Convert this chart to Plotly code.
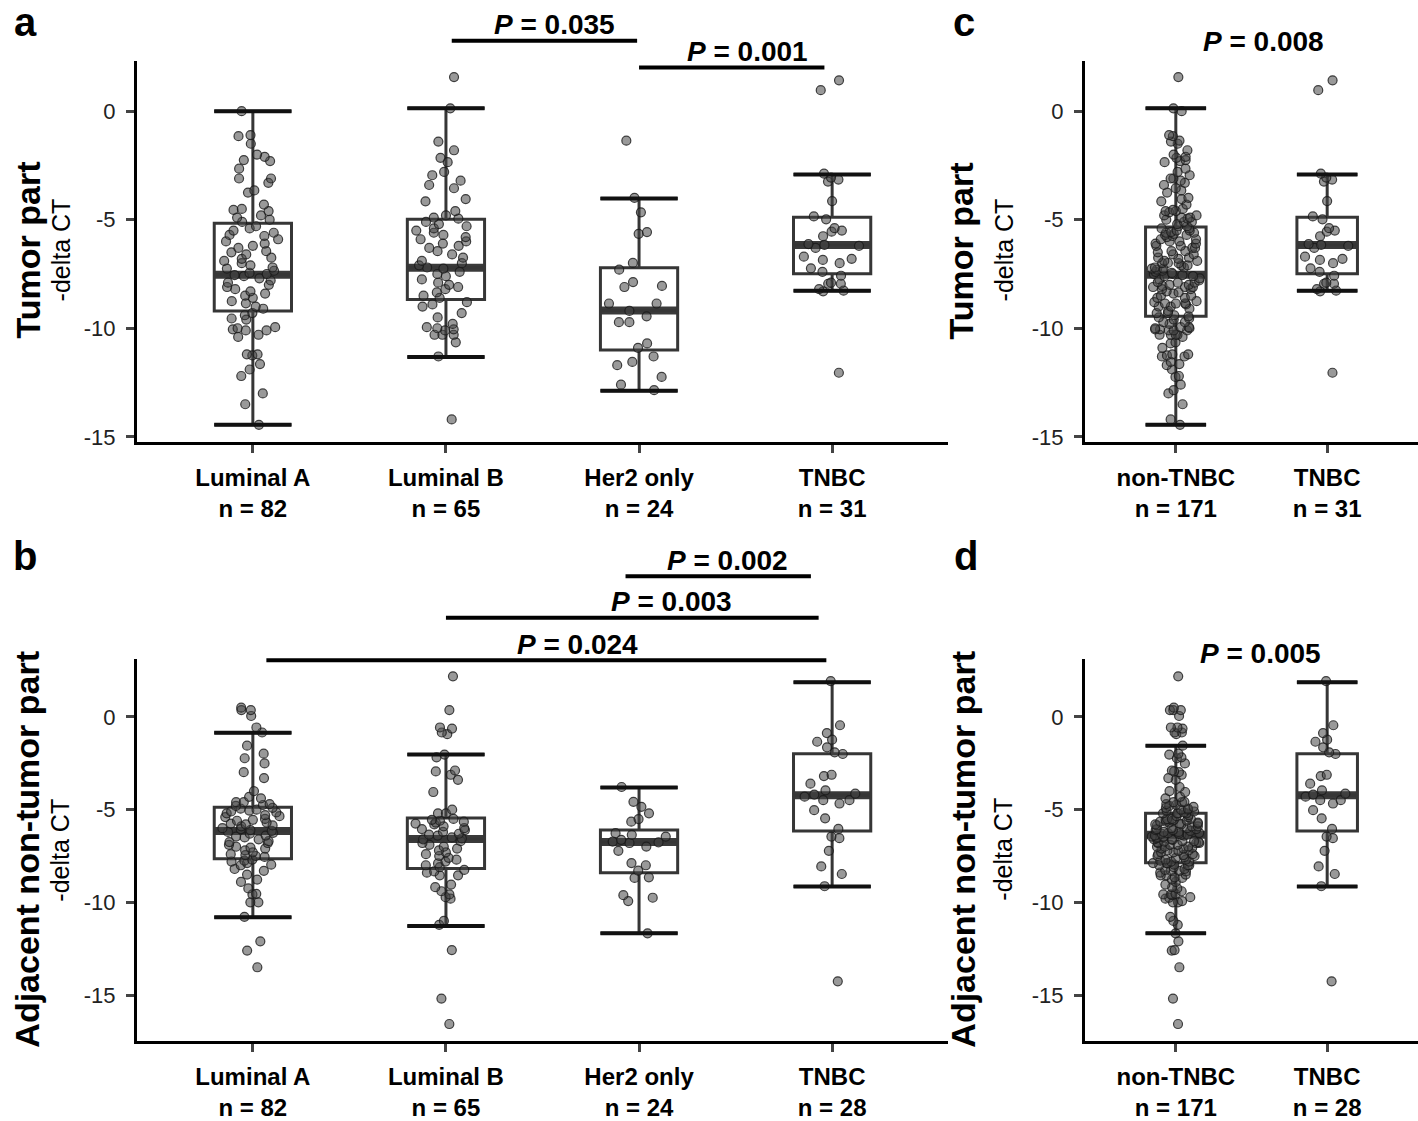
import plotly.graph_objects as go

# ---- data: tumor part (panel a, c) ----
groups_a = ["Luminal A", "Luminal B", "Her2 only", "TNBC"]
n_a = [82, 65, 24, 31]

lumA_t = [0.0, -1.1, -1.15, -1.5, -2.0, -2.1, -2.25, -2.3, -2.65, -3.1, -3.1, -3.3, -3.65, -3.75,
          -4.3, -4.5, -4.55, -4.6, -4.8, -4.9, -5.0, -5.1,
          -5.3, -5.4, -5.5, -5.6, -5.7, -5.75, -5.9, -6.0, -6.1, -6.2, -6.3, -6.45, -6.5, -6.6,
          -6.75, -6.8, -6.9, -7.0, -7.1, -7.2, -7.25, -7.35, -7.45, -7.5, -7.55, -7.6, -7.7, -7.8,
          -7.9, -8.0, -8.1, -8.2, -8.3, -8.4, -8.5, -8.6, -8.75, -8.85, -9.0, -9.1,
          -9.3, -9.4, -9.55, -9.6, -9.95, -10.0, -10.05, -10.1, -10.1, -10.3, -10.4,
          -11.2, -11.2, -11.25, -11.65, -11.9, -12.2, -13.0, -13.5, -14.45]
lumB_t = [1.57, 0.13, -1.4, -1.8, -2.15, -2.35, -2.8, -2.95, -3.2, -3.4, -3.55, -4.05, -4.15,
          -4.6, -4.8, -4.9, -4.95,
          -5.1, -5.2, -5.3, -5.4, -5.5, -5.6, -5.7, -5.8, -5.9, -6.0, -6.1, -6.2, -6.3, -6.45,
          -6.6, -6.75, -6.9, -7.0, -7.1, -7.2, -7.25, -7.4, -7.5, -7.6, -7.75, -7.9, -8.0, -8.1,
          -8.2, -8.35, -8.5, -8.6,
          -8.8, -8.9, -9.0, -9.3, -9.5, -9.8, -9.95, -10.0, -10.05, -10.1, -10.3, -10.3, -10.3,
          -10.65, -11.3, -14.2]
her2_t = [-1.36, -3.99, -4.66, -5.57, -5.65, -6.99, -7.3, -7.87, -8.05, -8.1, -8.86, -8.86,
          -9.2, -9.45, -9.72, -9.72, -10.7, -10.9, -11.3, -11.55, -11.7, -12.24, -12.6, -12.85]
tnbc_t = [1.42, 0.97, -2.88, -3.06, -3.15, -3.24, -4.14, -4.85, -4.98, -5.39, -5.5, -5.55,
          -5.76, -6.12, -6.16, -6.2, -6.3, -6.7, -6.8, -6.85, -7.0, -7.24, -7.4, -7.58, -7.9,
          -7.95, -7.95, -8.2, -8.27, -8.3, -12.05]

# box statistics (lower whisker, q1, median, q3, upper whisker)
a_low = [-14.45, -11.32, -12.88, -8.27]
a_q1 = [-9.2, -8.68, -11.0, -7.49]
a_med = [-7.53, -7.21, -9.18, -6.16]
a_q3 = [-5.16, -4.98, -7.21, -4.89]
a_high = [0.0, 0.14, -4.02, -2.92]

groups_c = ["non-TNBC", "TNBC"]
n_c = [171, 31]
c_low = [-14.45, -8.27]
c_q1 = [-9.45, -7.49]
c_med = [-7.53, -6.16]
c_q3 = [-5.34, -4.89]
c_high = [0.14, -2.92]

# ---- data: adjacent non-tumor part (panel b, d) ----
n_b = [82, 65, 24, 28]
lumA_n = [0.5, 0.37, 0.37, 0.05, -0.57, -0.84, -1.55, -1.98, -2.23, -2.51, -2.98, -3.3, -4.0,
          -4.31, -4.39, -4.6, -4.6, -4.7, -4.75, -4.8,
          -4.9, -4.95, -5.0, -5.05, -5.1, -5.15, -5.2, -5.3, -5.35, -5.4, -5.5, -5.55, -5.6,
          -5.7, -5.75, -5.8, -5.85, -5.9, -6.0, -6.05, -6.1, -6.15, -6.2, -6.25, -6.3, -6.4,
          -6.45, -6.5, -6.6, -6.7, -6.75, -6.8, -6.9, -7.0, -7.05, -7.1, -7.2, -7.3, -7.4,
          -7.45, -7.5, -7.55,
          -7.7, -7.75, -7.8, -7.88, -7.97, -8.0, -8.2, -8.3, -8.5, -8.77, -8.9, -9.25, -9.54,
          -9.57, -10.0, -10.0, -10.78, -12.1, -12.6, -13.5]
lumB_n = [2.19, 0.37, -0.57, -0.63, -0.84, -0.93, -2.03, -2.18, -2.89, -2.94, -3.12, -3.39,
          -4.05, -5.0, -5.2, -5.2,
          -5.5, -5.55, -5.6, -5.65, -5.7, -5.75, -5.8, -5.9, -6.0, -6.05, -6.1, -6.2, -6.3,
          -6.35, -6.4, -6.5, -6.55, -6.6, -6.7, -6.8, -6.9, -7.0, -7.1, -7.2, -7.3, -7.4, -7.5,
          -7.6, -7.7, -7.8, -7.9, -8.0, -8.1,
          -8.25, -8.33, -8.4, -8.54, -8.54, -9.04, -9.18, -9.4, -9.57, -9.72, -9.8, -11.0,
          -11.21, -12.57, -15.19, -16.56]
her2_n = [-3.78, -4.58, -4.85, -5.2, -5.51, -5.65, -6.27, -6.36, -6.45, -6.63, -6.72, -6.76,
          -6.8, -6.99, -7.22, -7.88, -8.0, -8.29, -8.65, -8.68, -9.61, -9.75, -9.93, -11.67]
tnbc_n = [1.93, -0.45, -0.87, -1.23, -1.34, -1.64, -1.91, -2.0, -3.12, -3.19, -3.6, -3.96,
          -4.14, -4.19, -4.3, -4.49, -4.49, -4.67, -5.03, -5.47, -6.04, -6.45, -6.54, -7.22,
          -8.06, -8.47, -9.13, -14.26]

b_low = [-10.8, -11.28, -11.66, -9.14]
b_q1 = [-7.65, -8.18, -8.4, -6.15]
b_med = [-6.15, -6.58, -6.74, -4.22]
b_q3 = [-4.87, -5.45, -6.1, -1.98]
b_high = [-0.86, -2.03, -3.8, 1.87]

n_d = [171, 28]
d_low = [-11.66, -9.14]
d_q1 = [-7.86, -6.15]
d_med = [-6.36, -4.22]
d_q3 = [-5.19, -1.98]
d_high = [-1.55, 1.87]

# p-values: (from, to, bracket level, label position, text)
sig_a = [(1.03, 1.99, 3.24, 1.56, "0.035"), (2.0, 2.96, 2.01, 2.56, "0.001")]
sig_b = [(1.93, 2.89, 7.59, 2.46, "0.002"), (1.0, 2.93, 5.35, 2.17, "0.003"),
         (0.07, 2.97, 3.05, 1.68, "0.024")]
p_c = (0.58, 3.2, "0.008")
p_d = (0.56, 3.42, "0.005")

FONT = "Liberation Sans, Arial, sans-serif"
W, H = 1418, 1121
yr_t = [-15.25, 2.33]
yr_n = [-17.5, 3.13]

panels = {
    "a": dict(ax=("x", "y"), xr=[-0.6, 3.6], yr=yr_t, names=groups_a, n=n_a,
              vals=[lumA_t, lumB_t, her2_t, tnbc_t],
              stats=(a_low, a_q1, a_med, a_q3, a_high),
              dom=((137, 948), (61, 445))),
    "c": dict(ax=("x2", "y2"), xr=[-0.6, 1.6], yr=yr_t, names=groups_c, n=n_c,
              vals=[lumA_t + lumB_t + her2_t, tnbc_t],
              stats=(c_low, c_q1, c_med, c_q3, c_high),
              dom=((1085, 1418), (61, 445))),
    "b": dict(ax=("x3", "y3"), xr=[-0.6, 3.6], yr=yr_n, names=groups_a, n=n_b,
              vals=[lumA_n, lumB_n, her2_n, tnbc_n],
              stats=(b_low, b_q1, b_med, b_q3, b_high),
              dom=((137, 948), (663, 1048))),
    "d": dict(ax=("x4", "y4"), xr=[-0.6, 1.6], yr=yr_n, names=groups_c, n=n_d,
              vals=[lumA_n + lumB_n + her2_n, tnbc_n],
              stats=(d_low, d_q1, d_med, d_q3, d_high),
              dom=((1085, 1418), (663, 1048))),
}

fig = go.Figure()
shapes = []
annotations = []


def frac(v, rng):
    return (v - rng[0]) / (rng[1] - rng[0])


for key, p in panels.items():
    xa, ya = p["ax"]
    low, q1, med, q3, high = p["stats"]
    for i, vals in enumerate(p["vals"]):
        fig.add_trace(go.Box(
            x=[i], q1=[q1[i]], median=[med[i]], q3=[q3[i]],
            lowerfence=[low[i]], upperfence=[high[i]], orientation="v",
            width=0.4, whiskerwidth=1, boxpoints=False,
            fillcolor="rgba(255,255,255,0)", line=dict(color="#363636", width=3),
            xaxis=xa, yaxis=ya, showlegend=False, hoverinfo="skip"))
        fig.add_trace(go.Box(
            y=vals, x0=i, width=0.4, boxpoints="all", jitter=0.8, pointpos=0,
            fillcolor="rgba(0,0,0,0)", line=dict(color="rgba(0,0,0,0)", width=0),
            marker=dict(size=9, color="rgba(70,70,70,0.55)",
                        line=dict(color="rgba(25,25,25,0.8)", width=1.2)),
            xaxis=xa, yaxis=ya, showlegend=False))
        # thick median bar
        shapes.append(dict(type="line", xref=xa, yref=ya, layer="below",
                           x0=i - 0.2, x1=i + 0.2, y0=med[i], y1=med[i],
                           line=dict(color="#3a3a3a", width=8)))
        # black whisker caps
        for v in (low[i], high[i]):
            shapes.append(dict(type="line", xref=xa, yref=ya,
                               x0=i - 0.2, x1=i + 0.2, y0=v, y1=v,
                               line=dict(color="#111111", width=4)))

    (x0p, x1p), (y0p, y1p) = p["dom"]
    sfx = xa[1:]
    ticktext = [f"<b>{nm}</b><br><b>n = {n}</b>" for nm, n in zip(p["names"], p["n"])]
    fig.layout["xaxis" + sfx] = dict(
        domain=[x0p / W, x1p / W], range=p["xr"], anchor=ya,
        tickvals=list(range(len(p["names"]))), ticktext=ticktext,
        showline=True, linewidth=3, linecolor="black", ticks="outside",
        ticklen=8, tickwidth=2.5, tickcolor="#444", ticklabelstandoff=4,
        tickfont=dict(family=FONT, size=24, color="black"),
        showgrid=False, zeroline=False, fixedrange=True)
    fig.layout["yaxis" + sfx] = dict(
        domain=[1 - y1p / H, 1 - y0p / H], range=p["yr"], anchor=xa,
        tickvals=[0, -5, -10, -15], ticktext=["0", "-5", "-10", "-15"],
        showline=True, linewidth=3, linecolor="black", ticks="outside",
        ticklen=8, tickwidth=2.5, tickcolor="#444", ticklabelstandoff=6,
        tickfont=dict(family=FONT, size=22, color="#222"),
        showgrid=False, zeroline=False, fixedrange=True)


def add_sig(key, sigs):
    p = panels[key]
    xa, ya = p["ax"]
    for s0, s1, lvl, tx, txt in sigs:
        shapes.append(dict(type="line", xref=xa + " domain", yref=ya + " domain",
                           x0=frac(s0, p["xr"]), x1=frac(s1, p["xr"]),
                           y0=frac(lvl, p["yr"]), y1=frac(lvl, p["yr"]),
                           line=dict(color="black", width=4)))
        annotations.append(dict(xref=xa + " domain", yref=ya + " domain",
                                x=frac(tx, p["xr"]), y=frac(lvl, p["yr"]), yshift=16,
                                text=f"<b><i>P</i> = {txt}</b>", showarrow=False,
                                font=dict(family=FONT, size=28, color="black"),
                                xanchor="center", yanchor="middle"))


add_sig("a", sig_a)
add_sig("b", sig_b)
for key, (tx, ty, txt) in (("c", p_c), ("d", p_d)):
    p = panels[key]
    xa, ya = p["ax"]
    annotations.append(dict(xref=xa + " domain", yref=ya + " domain",
                            x=frac(tx, p["xr"]), y=frac(ty, p["yr"]),
                            text=f"<b><i>P</i> = {txt}</b>", showarrow=False,
                            font=dict(family=FONT, size=28, color="black"),
                            xanchor="center", yanchor="middle"))

# panel letters and y titles (pixel positions on the page)
for letter, px, py in (("a", 25, 22), ("c", 964, 22), ("b", 25, 559), ("d", 966, 559)):
    annotations.append(dict(xref="paper", yref="paper", x=px / W, y=1 - py / H,
                            text=f"<b>{letter}</b>", showarrow=False,
                            font=dict(family=FONT, size=40, color="black"),
                            xanchor="center", yanchor="middle"))

titles = [("Tumor part", 28, 61, 252), ("Tumor part", 961, 1004, 252),
          ("Adjacent non-tumor part", 27, 60, 855), ("Adjacent non-tumor part", 963, 1003, 855)]
for txt, px_main, px_sub, py in titles:
    annotations.append(dict(xref="paper", yref="paper", x=px_main / W, y=1 - py / H,
                            text=f"<b>{txt}</b>", showarrow=False, textangle=-90,
                            font=dict(family=FONT, size=34, color="black"),
                            xanchor="center", yanchor="middle"))
    annotations.append(dict(xref="paper", yref="paper", x=px_sub / W, y=1 - py / H,
                            text="-delta CT", showarrow=False, textangle=-90,
                            font=dict(family=FONT, size=25, color="black"),
                            xanchor="center", yanchor="middle"))

fig.update_layout(
    width=W, height=H, margin=dict(l=0, r=0, t=0, b=0),
    plot_bgcolor="white", paper_bgcolor="white",
    shapes=shapes, annotations=annotations, boxmode="overlay",
    font=dict(family=FONT),
)

# drop the browser's default page margin so the figure sits at the window corner
fig.write_html("out.html", config={"displayModeBar": False},
               post_script="document.body.style.margin='0px';")
